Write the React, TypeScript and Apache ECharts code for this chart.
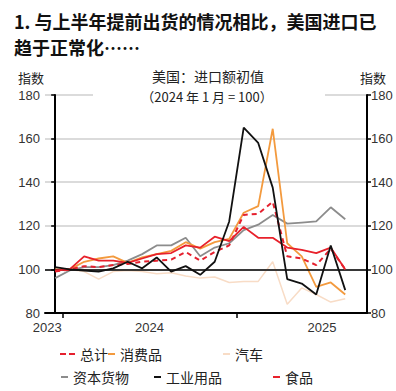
import React, { useEffect, useRef } from "react";
import * as echarts from "echarts";

const months = [
  "2023-12", "2024-01", "2024-02", "2024-03", "2024-04", "2024-05", "2024-06",
  "2024-07", "2024-08", "2024-09", "2024-10", "2024-11", "2024-12", "2025-01",
  "2025-02", "2025-03", "2025-04", "2025-05", "2025-06", "2025-07", "2025-08",
];

const total = [99, 100, 101.5, 101, 102, 102.5, 103.5, 104, 104.5, 108, 104, 108, 111, 125, 125.5, 131, 106, 105, 102, 109.5, 100];
const consumer = [100, 100, 103.5, 105, 106, 103, 105.5, 107, 108.5, 112.5, 109.5, 112.5, 114, 126, 129, 164.5, 112, 106, 92, 94, 88.5];
const autos = [100, 100, 99, 95.5, 99, 99.5, 99, 98, 98.5, 97, 96, 96.5, 94, 94.5, 94.5, 103.5, 84, 91.5, 88.5, 85, 86.5];
const capital = [96, 99.5, 101, 101, 102, 104, 107, 111, 111, 114.5, 106, 110, 112, 118, 120.5, 125, 121, 121.5, 122, 128.5, 123];
const industrial = [101, 100, 99.5, 99, 100.5, 103.5, 100.5, 105.5, 99, 101.5, 97.5, 103.5, 122, 165, 158, 137.5, 95.5, 93.5, 88.5, 111, 90.5];
const food = [99.5, 100, 106, 104, 104, 103, 105, 107, 107.5, 111, 110, 115, 113, 119.5, 114.5, 114.5, 110, 109, 107.5, 110, 100];

const yearTickPositions = [0.5, 12.5];
const yearLabelPositions = [-0.55, 6.5, 18.4];
const yearLabels = ["2023", "2024", "2025"];
const yTicks = { min: 80, max: 180, interval: 20 };

const toPairs = (arr: number[]) => arr.map((v, i) => [i, v]);

export default function App() {
  const ref = useRef<HTMLDivElement>(null);

  useEffect(() => {
    if (!ref.current) return;
    const chart = echarts.init(ref.current, null, { renderer: "svg" });
    const font = "'Liberation Sans', Arial, 'Noto Sans CJK SC', sans-serif";
    const cjk = "'Noto Sans CJK SC', 'Liberation Sans', sans-serif";

    const mkSeries = (name: string, data: number[], color: string, width: number, type: any, z: number, extra: any = {}) => ({
      name,
      type: "line",
      data: toPairs(data),
      symbol: "none",
      showSymbol: false,
      z,
      lineStyle: { color, width, type },
      itemStyle: { color },
      ...extra,
    });

    const legendBase = (name: string, left: number, top: number, itemWidth: number, icon: string) => ({
      data: [{ name, icon }],
      left,
      top,
      itemWidth,
      itemHeight: 2,
      symbolKeepAspect: false,
      padding: 0,
      textStyle: { fontSize: 14, color: "#222", fontFamily: cjk },
    });

    const dashIcon = "path://M0,0H6V2H0Z M9,0H15V2H9Z";

    chart.setOption({
      animation: false,
      backgroundColor: "#fff",
      title: {
        text: "1. 与上半年提前出货的情况相比，美国进口已\n趋于正常化……",
        left: 14,
        top: 8,
        padding: 0,
        textStyle: { fontSize: 18, fontWeight: "bold", color: "#111", lineHeight: 26, fontFamily: cjk },
      },
      grid: { left: 45, right: 29, top: 95, bottom: 78 },
      xAxis: {
        type: "value",
        min: -0.7,
        max: 21.5,
        axisLine: { lineStyle: { color: "#000", width: 2 } },
        axisTick: { show: true, customValues: yearTickPositions, length: 5, lineStyle: { color: "#000", width: 1.5 } },
        axisLabel: {
          customValues: yearLabelPositions,
          formatter: (v: number) => (v < 0 ? yearLabels[0] : v < 12.5 ? yearLabels[1] : yearLabels[2]),
          fontSize: 13,
          color: "#333",
          fontFamily: font,
          margin: 8,
        },
        splitLine: { show: false },
      },
      yAxis: [
        {
          type: "value",
          min: yTicks.min,
          max: yTicks.max,
          interval: yTicks.interval,
          position: "left",
          axisLine: { show: true, lineStyle: { color: "#000", width: 2 } },
          axisTick: { show: true, length: 4, lineStyle: { color: "#000", width: 1.5 } },
          axisLabel: { fontSize: 13, color: "#333", fontFamily: font, margin: 5 },
          splitLine: { show: true, lineStyle: { color: "#cfcfcf", width: 1.5 } },
        },
        {
          type: "value",
          min: yTicks.min,
          max: yTicks.max,
          interval: yTicks.interval,
          position: "right",
          axisLine: { show: true, lineStyle: { color: "#000", width: 2 } },
          axisTick: { show: true, length: 4, lineStyle: { color: "#000", width: 1.5 } },
          axisLabel: { fontSize: 13, color: "#333", fontFamily: font, margin: 4 },
          splitLine: { show: false },
        },
      ],
      legend: [
        legendBase("总计", 60, 347, 15, dashIcon),
        legendBase("消费品", 108, 347, 7, "rect"),
        legendBase("汽车", 223, 347, 7, "rect"),
        legendBase("资本货物", 61, 370, 7, "rect"),
        legendBase("工业用品", 154, 370, 7, "rect"),
        legendBase("食品", 273, 370, 7, "rect"),
      ],
      graphic: [
        { type: "rect", z: 10, shape: { x: 93, y: 86, width: 232, height: 18 }, style: { fill: "#fff" } },
        { type: "text", z: 11, x: 31, y: 77, style: { text: "指数", fill: "#222", font: `13px ${cjk}`, align: "center", verticalAlign: "middle" } },
        { type: "text", z: 11, x: 373, y: 77, style: { text: "指数", fill: "#222", font: `13px ${cjk}`, align: "center", verticalAlign: "middle" } },
        { type: "text", z: 11, x: 208, y: 76, style: { text: "美国：进口额初值", fill: "#222", font: `14px ${cjk}`, align: "center", verticalAlign: "middle" } },
        { type: "text", z: 11, x: 207, y: 96, style: { text: "（2024 年 1 月 = 100）", fill: "#222", font: `13px ${cjk}`, align: "center", verticalAlign: "middle" } },
      ],
      series: [
        mkSeries("汽车", autos, "#f8dcc6", 1.5, "solid", 2),
        mkSeries("资本货物", capital, "#8c8c8c", 1.8, "solid", 3),
        mkSeries("消费品", consumer, "#f39a3e", 1.8, "solid", 4),
        mkSeries("总计", total, "#e5202e", 2, [5, 4], 5),
        mkSeries("食品", food, "#e8212b", 1.8, "solid", 6),
        mkSeries("工业用品", industrial, "#111111", 1.8, "solid", 7, {
          markLine: {
            silent: true,
            symbol: "none",
            label: { show: false },
            lineStyle: { color: "#000", width: 1.5, type: "solid" },
            data: [{ yAxis: 100 }],
          },
        }),
      ],
    });
    return () => chart.dispose();
  }, []);

  return <div ref={ref} style={{ width: 396, height: 391, position: "absolute", left: 0, top: 0 }} />;
}
